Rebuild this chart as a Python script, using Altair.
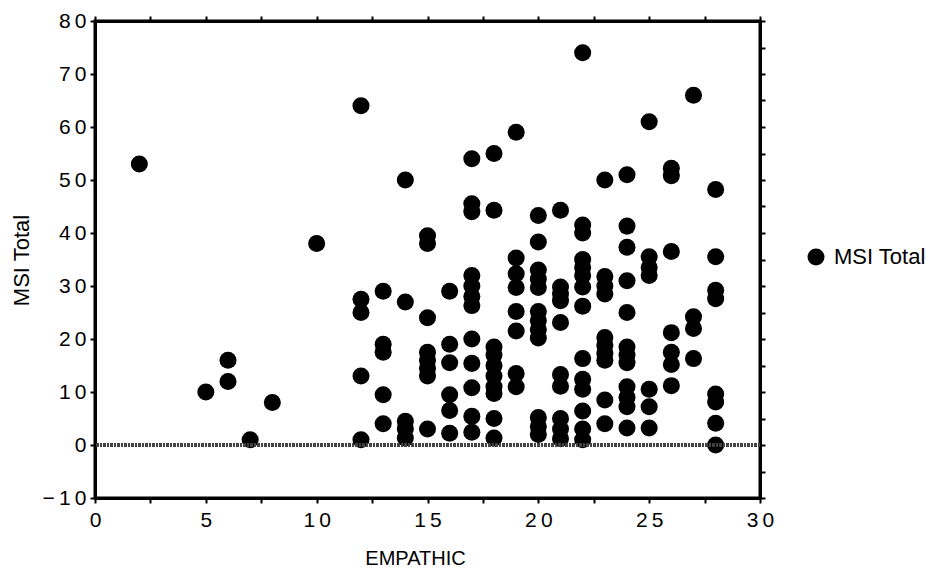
import altair as alt
import pandas as pd

# Data (EMPATHIC vs MSI Total)
col_2 = [53]
col_5 = [10]
col_6 = [16, 12]
col_7 = [1]
col_8 = [8]
col_10 = [38]
col_12 = [64, 27.5, 25, 13, 1]
col_13 = [29, 19, 17.5, 9.5, 4]
col_14 = [50, 27, 4.5, 3, 1.3]
col_15 = [39.5, 38, 24, 17.5, 16, 14.5, 13, 3]
col_16 = [29, 19, 15.5, 9.5, 6.5, 2.2]
col_17 = [54, 45.5, 44, 32, 30, 28, 26.3, 20, 15.4, 10.8, 5.4, 2.4]
col_18 = [55, 44.3, 18.5, 17, 15, 13, 11, 9.7, 5, 1.3]
col_19 = [59, 35.3, 32.3, 29.7, 25.2, 21.5, 13.5, 11]
col_20 = [43.3, 38.3, 33, 31.3, 29.7, 25.2, 23.5, 21.8, 20.2, 5.2, 3.5, 2]
col_21 = [44.3, 29.8, 28.5, 27.2, 23.1, 13.3, 11.1, 5, 3, 1.2]
col_22 = [74, 41.5, 40, 35, 33.5, 32, 29.8, 26.2, 16.3, 12.4, 10.5, 6.4, 3, 1]
col_23 = [50, 31.8, 30, 28.5, 20.3, 18.8, 17.3, 16, 8.5, 4]
col_24 = [51, 41.3, 37.3, 31, 25, 18.5, 17, 15.5, 11, 9, 7.2, 3.2]
col_25 = [61, 35.5, 33.5, 32, 10.5, 7.2, 3.2]
col_26 = [52.2, 50.8, 36.5, 21.2, 17.5, 15.2, 11.2]
col_27 = [66, 24.2, 22, 16.3]
col_28 = [48.2, 35.5, 29.2, 27.6, 9.6, 8.1, 4.1, 0]

columns = {
    2: col_2, 5: col_5, 6: col_6, 7: col_7, 8: col_8, 10: col_10,
    12: col_12, 13: col_13, 14: col_14, 15: col_15, 16: col_16,
    17: col_17, 18: col_18, 19: col_19, 20: col_20, 21: col_21,
    22: col_22, 23: col_23, 24: col_24, 25: col_25, 26: col_26,
    27: col_27, 28: col_28,
}

x_ticks = [0, 2.5, 5, 7.5, 10, 12.5, 15, 17.5, 20, 22.5, 25, 27.5, 30]
y_ticks = [-10, -5, 0, 5, 10, 15, 20, 25, 30, 35, 40, 45, 50, 55, 60, 65, 70, 75, 80]
series_name = "MSI Total"

rows = []
for xv, ys in columns.items():
    for yv in ys:
        rows.append({"EMPATHIC": xv, "MSI Total": yv, "series": series_name})
df = pd.DataFrame(rows)

FONT = "Liberation Sans"
x_scale = alt.Scale(domain=[0, 30], nice=False, zero=False)
y_scale = alt.Scale(domain=[-10, 80], nice=False, zero=False)

x_label_expr = "datum.value % 5 == 0 ? join(split(datum.label, ''), '\u2009') : ''"
y_label_expr = "datum.value % 10 == 0 ? join(split(datum.label, ''), '\u2009') : ''"

common = dict(tickSize=5, tickWidth=2, tickColor="black", grid=False,
              domain=True, domainColor="black", domainWidth=3)

points = alt.Chart(df).mark_circle(size=290, opacity=1).encode(
    x=alt.X("EMPATHIC:Q", scale=x_scale,
            axis=alt.Axis(values=x_ticks, labelExpr=x_label_expr, title="EMPATHIC",
                          titleX=320, titleY=66, titleAlign="center", titleBaseline="alphabetic",
                          titleFontSize=20, titleFontWeight="normal", titleFont=FONT,
                          titleColor="black",
                          labelFont=FONT, labelFontSize=21, labelColor="black",
                          labelPadding=6, labelFlush=False, labelOverlap=False, **common)),
    y=alt.Y("MSI Total:Q", scale=y_scale,
            axis=alt.Axis(values=y_ticks, labelExpr=y_label_expr, title="MSI Total",
                          titleX=-67, titleY=239, titleAngle=270, titleAlign="center",
                          titleBaseline="alphabetic",
                          titleFontSize=22, titleFontWeight="normal", titleFont=FONT,
                          titleColor="black",
                          labelFont=FONT, labelFontSize=21, labelColor="black",
                          labelPadding=4, labelFlush=False, labelOverlap=False, **common)),
    color=alt.Color("series:N", scale=alt.Scale(range=["black"]),
                    legend=alt.Legend(title=None, orient="none", legendX=710, legendY=225,
                                      symbolType="circle", symbolSize=290,
                                      symbolFillColor="black", symbolStrokeWidth=0,
                                      symbolOpacity=1,
                                      labelFont=FONT, labelFontSize=22, labelColor="black",
                                      labelOffset=7)),
)

zero_line = alt.Chart(df).mark_rule(color="#444444", strokeWidth=2.5, strokeDash=[2, 1.5]).encode(
    y=alt.datum(0)
)

ghost = alt.Chart(df).mark_point(opacity=0).encode(
    x=alt.X("EMPATHIC:Q", scale=x_scale,
            axis=alt.Axis(orient="top", values=x_ticks, labels=False, title="", **common)),
    y=alt.Y("MSI Total:Q", scale=y_scale,
            axis=alt.Axis(orient="right", values=y_ticks, labels=False, title="", **common)),
)

chart = alt.layer(alt.layer(points, zero_line), ghost).resolve_axis(
    x="independent", y="independent"
).properties(
    width=665, height=477,
    padding={"left": 87, "top": 13, "right": 178, "bottom": 71},
    autosize=alt.AutoSizeParams(type="none"),
    background="white",
).configure_view(stroke="black", strokeWidth=3)

chart.save("out.html", embed_options={"renderer": "svg", "actions": False})
